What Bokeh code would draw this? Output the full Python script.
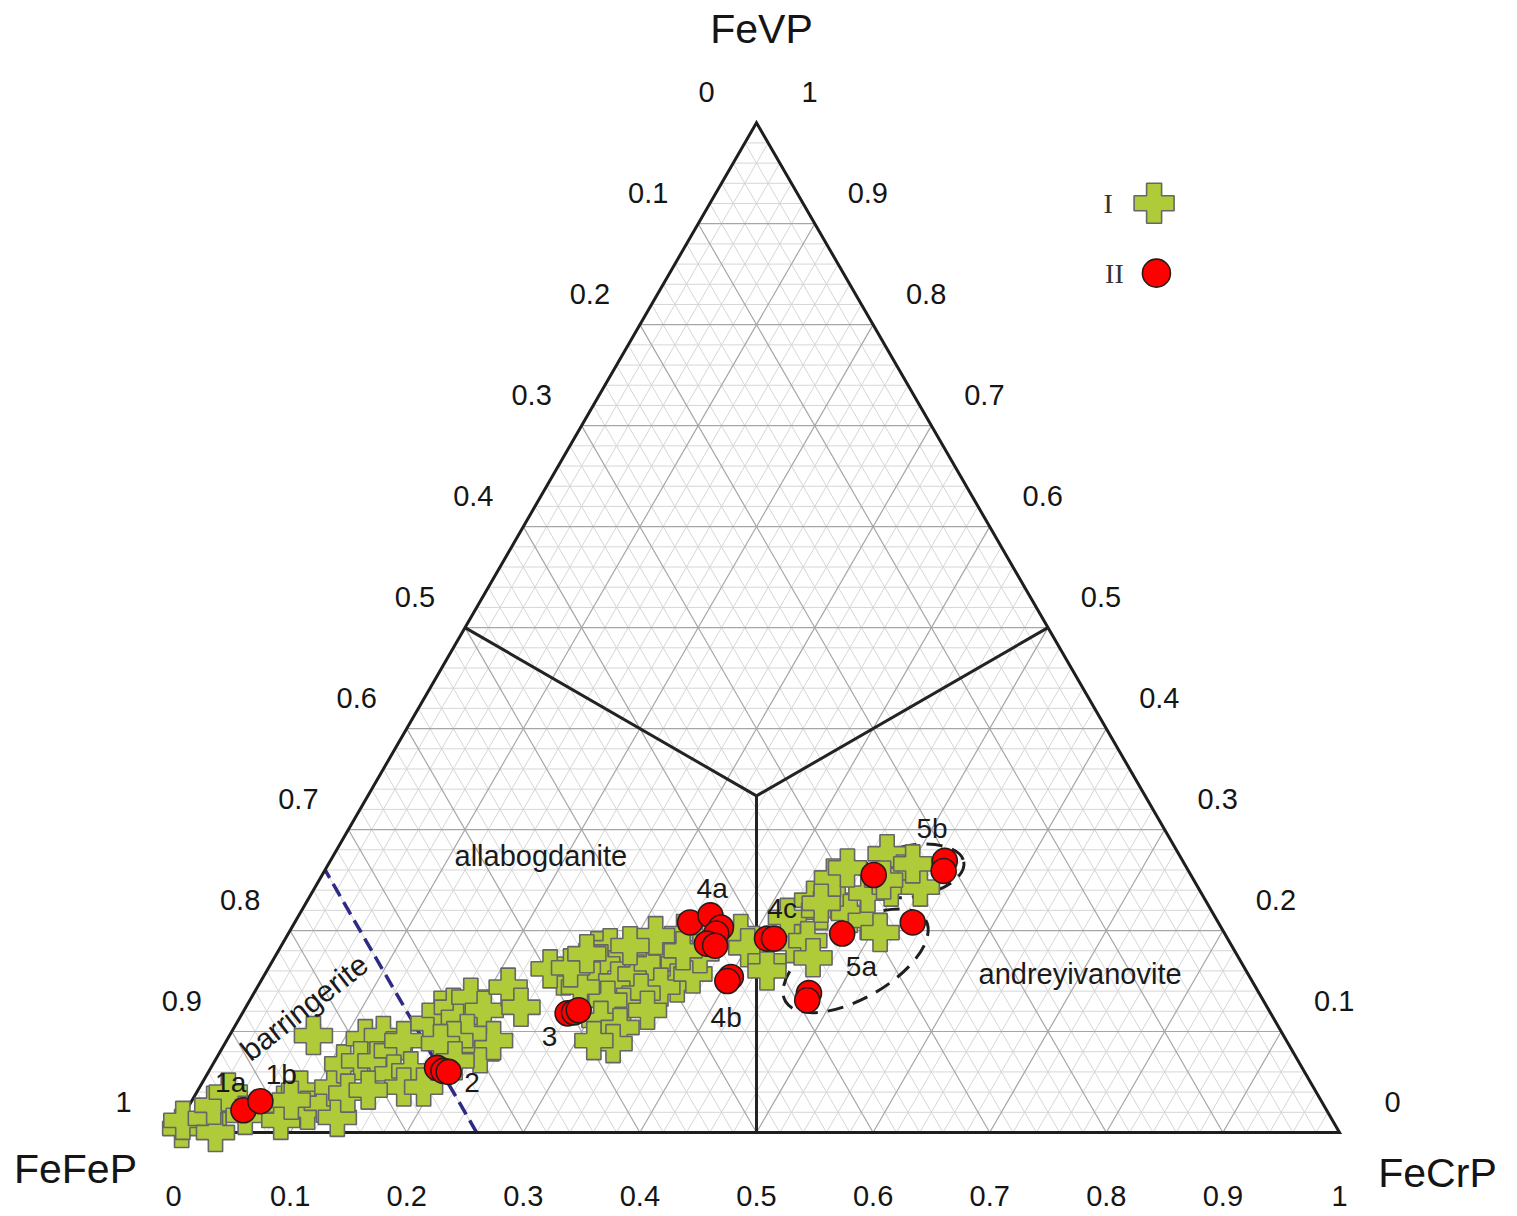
import numpy as np
from bokeh.plotting import figure
from bokeh.models import Range1d
from bokeh.embed import file_html
from bokeh.resources import INLINE
from bokeh.core.properties import value

H = np.sqrt(3) / 2

# ---------------- data (mole fractions FeCrP, FeVP; FeFeP = 1 - both) -------------
I_FeCrP = [0.005, 0.002, 0.022, 0.036, 0.021, 0.027, 0.053, 0.081, 0.086, 0.088,
           0.104, 0.114, 0.115, 0.133, 0.112, 0.072, 0.118, 0.132, 0.125, 0.139,
           0.148, 0.152, 0.160, 0.173, 0.175, 0.166, 0.169, 0.178, 0.189, 0.188,
           0.206, 0.215, 0.236, 0.224, 0.229, 0.203, 0.195, 0.185, 0.192, 0.130,
           0.146, 0.085, 0.257, 0.242, 0.274, 0.283, 0.303, 0.283, 0.285, 0.306,
           0.319, 0.328, 0.332, 0.339, 0.351, 0.358, 0.346, 0.332, 0.324, 0.307,
           0.311, 0.331, 0.333, 0.315, 0.367, 0.363, 0.346, 0.277, 0.259, 0.266,
           0.347, 0.388, 0.401, 0.424, 0.438, 0.420, 0.434, 0.445, 0.455, 0.440,
           0.449, 0.462, 0.472, 0.490, 0.477, 0.429, 0.442, 0.507, 0.474, 0.498,
           0.494, 0.519, 0.484, 0.447, 0.501, 0.316, 0.299, 0.206]
I_FeVP = [0.004, 0.012, 0.014, 0.000, 0.027, 0.040, 0.017, 0.027, 0.012, 0.042,
          0.022, 0.029, 0.045, 0.015, 0.068, 0.096, 0.093, 0.096, 0.071, 0.071,
          0.081, 0.091, 0.058, 0.061, 0.045, 0.108, 0.121, 0.124, 0.114, 0.134,
          0.121, 0.144, 0.124, 0.078, 0.091, 0.098, 0.091, 0.088, 0.045, 0.039,
          0.042, 0.032, 0.155, 0.162, 0.180, 0.183, 0.173, 0.167, 0.150, 0.150,
          0.157, 0.167, 0.183, 0.197, 0.167, 0.148, 0.144, 0.138, 0.124, 0.131,
          0.111, 0.104, 0.088, 0.091, 0.157, 0.177, 0.121, 0.144, 0.163, 0.177,
          0.180, 0.197, 0.183, 0.170, 0.187, 0.213, 0.230, 0.220, 0.230, 0.252,
          0.190, 0.173, 0.217, 0.210, 0.237, 0.160, 0.227, 0.198, 0.276, 0.256,
          0.243, 0.243, 0.250, 0.262, 0.266, 0.195, 0.185, 0.071]

II_FeCrP = [0.049, 0.059, 0.194, 0.201, 0.206, 0.279, 0.284, 0.287, 0.339, 0.353,
            0.368, 0.367, 0.364, 0.372, 0.401, 0.400, 0.413, 0.419, 0.475, 0.530,
            0.476, 0.478, 0.473, 0.527, 0.531]
II_FeVP = [0.022, 0.031, 0.064, 0.061, 0.060, 0.118, 0.119, 0.121, 0.208, 0.215,
           0.203, 0.197, 0.187, 0.185, 0.154, 0.150, 0.192, 0.192, 0.197, 0.208,
           0.138, 0.131, 0.255, 0.269, 0.259]

# point-group labels
LAB_TEXT = ["1a", "1b", "2", "3", "4a", "4b", "4c", "5a", "5b"]
LAB_FeCrP = [0.024, 0.064, 0.231, 0.275, 0.341, 0.417, 0.411, 0.508, 0.500]
LAB_FeVP = [0.050, 0.057, 0.050, 0.095, 0.242, 0.114, 0.222, 0.164, 0.301]

# field names
FIELD_TEXT = ["allabogdanite", "andreyivanovite"]
FIELD_FeCrP = [0.178, 0.699]
FIELD_FeVP = [0.274, 0.157]

# field boundaries (from edge midpoints to the barycentre)
BND_FeCrP = [[0.0, 1/3], [0.5, 1/3], [0.5, 1/3]]
BND_FeVP = [[0.5, 1/3], [0.5, 1/3], [0.0, 1/3]]
BARR_FeFeP = 0.74   # barringerite limit

# dashed groups 5a, 5b
ELL_FeCrP = [0.500, 0.504]
ELL_FeVP = [0.170, 0.259]

TICKS = [0, 0.1, 0.2, 0.3, 0.4, 0.5, 0.6, 0.7, 0.8, 0.9, 1]
TICK_LABELS = ["0", "0.1", "0.2", "0.3", "0.4", "0.5", "0.6", "0.7", "0.8", "0.9", "1"]


def tern(c, v):
    c = np.asarray(c, float)
    v = np.asarray(v, float)
    return c + v / 2, v * H


FONT = value("Liberation Sans")

W, HT = 1512, 1212
SCALE = 1166.0
X0, Y0 = 173.0, 1132.0   # pixel position of the FeFeP corner
p = figure(width=W, height=HT,
           x_range=Range1d(-X0 / SCALE, (W - X0) / SCALE),
           y_range=Range1d((Y0 - HT) / SCALE, Y0 / SCALE),
           output_backend="svg", toolbar_location=None, min_border=0,
           x_axis_location=None, y_axis_location=None)
p.grid.visible = False
p.outline_line_color = None
p.background_fill_color = "white"


def family_lines(vals):
    xs, ys = [], []
    for t in vals:
        for (c0, v0, c1, v1) in [(0, t, 1 - t, t), (t, 0, t, 1 - t), (1 - t, 0, 0, 1 - t)]:
            x, y = tern([c0, c1], [v0, v1])
            xs.append(list(x))
            ys.append(list(y))
    return xs, ys


minor = [k / 50 for k in range(1, 50) if k % 5 != 0]
major = [k / 10 for k in range(1, 10)]
mx, my = family_lines(minor)
p.multi_line(mx, my, line_color="#d6d6d6", line_width=1)
Mx, My = family_lines(major)
p.multi_line(Mx, My, line_color="#a6a6a6", line_width=1.2)

# boundaries
bx, by = [], []
for cs, vs in zip(BND_FeCrP, BND_FeVP):
    x, y = tern(cs, vs)
    bx.append(list(x))
    by.append(list(y))
p.multi_line(bx, by, line_color="#232323", line_width=3)

# barringerite line
x, y = tern([1 - BARR_FeFeP, 0], [0, 1 - BARR_FeFeP])
p.line(x, y, line_color="#2e2a86", line_width=3.5, line_dash="14 7")

# outline
x, y = tern([0, 1, 0, 0], [0, 0, 1, 0])
p.line(x, y, line_color="#1e1e1e", line_width=3, line_join="miter")

# ellipses
ex, ey = tern(ELL_FeCrP, ELL_FeVP)
p.ellipse(ex, ey, width=[0.139, 0.090], height=[0.064, 0.044],
          angle=[np.radians(30), np.radians(10)],
          fill_color=None, line_color="#1e1e1e", line_width=3, line_dash="16 10")

# data
x, y = tern(I_FeCrP, I_FeVP)
p.scatter(x, y, marker="plus", size=38, fill_color="#afcb3a",
          line_color="#666666", line_width=1.6)
x, y = tern(II_FeCrP, II_FeVP)
p.scatter(x, y, marker="circle", size=25, fill_color="#ff0000",
          line_color="#2a1a1a", line_width=1.6)

# tick labels
t = np.array(TICKS)
x, y = tern(np.zeros_like(t), 1 - t)
p.text(x, y, text=TICK_LABELS, x_offset=-50, y_offset=-31, text_align="center",
       text_baseline="middle", text_font=FONT, text_font_size="29px", text_color="#151515")
x, y = tern(1 - t, t)
p.text(x, y, text=TICK_LABELS, x_offset=53, y_offset=-31, text_align="center",
       text_baseline="middle", text_font=FONT, text_font_size="29px", text_color="#151515")
x, y = tern(t, np.zeros_like(t))
p.text(x, y, text=TICK_LABELS, x_offset=0, y_offset=63, text_align="center",
       text_baseline="middle", text_font=FONT, text_font_size="29px", text_color="#151515")

# vertex names
x, y = tern([0, 0, 1], [1, 0, 0])
p.text(x, y, text=["FeVP", "FeFeP", "FeCrP"], x_offset=[5, -98, 98],
       y_offset=[-94, 36, 40], text_align="center", text_baseline="middle",
       text_font=FONT, text_font_size="41px", text_color="#151515")

# group labels
x, y = tern(LAB_FeCrP, LAB_FeVP)
p.text(x, y, text=LAB_TEXT, text_align="center", text_baseline="middle",
       text_font=FONT, text_font_size="28px", text_color="#1a1a1a")

# field names
x, y = tern(FIELD_FeCrP, FIELD_FeVP)
p.text(x, y, text=FIELD_TEXT, text_align="center", text_baseline="middle",
       text_font=FONT, text_font_size="29px", text_color="#1a1a1a")
x, y = tern([0.050], [0.124])
p.text(x, y, text=["barringerite"], angle=np.radians(38), text_align="center",
       text_baseline="middle", text_font=FONT, text_font_size="30px", text_color="#1a1a1a")

# legend
LEG_X, LEG_Y, LEG_DY = 0.841, 0.797, 0.060
p.scatter([LEG_X], [LEG_Y], marker="plus", size=40, fill_color="#afcb3a",
          line_color="#666666", line_width=1.6)
p.scatter([LEG_X + 0.002], [LEG_Y - LEG_DY], marker="circle", size=28,
          fill_color="#ff0000", line_color="#2a1a1a", line_width=1.6)
p.text([LEG_X, LEG_X + 0.002], [LEG_Y, LEG_Y - LEG_DY], text=["I", "II"],
       x_offset=[-46, -42], text_align="center", text_baseline="middle",
       text_font=value("Liberation Serif"), text_font_size="28px", text_color="#333333")

open("out.html", "w").write(file_html(p, INLINE))
